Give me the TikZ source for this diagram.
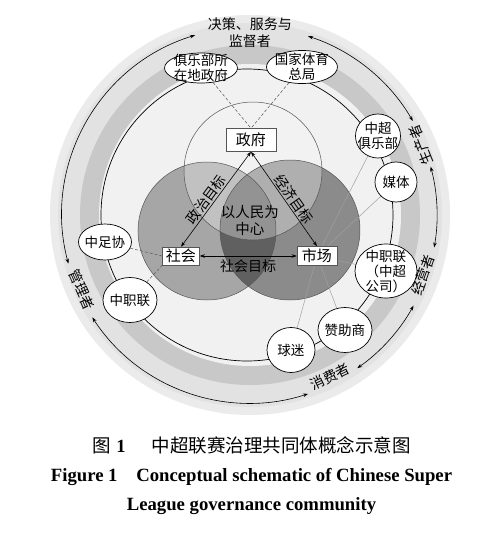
\documentclass[tikz,border=0pt]{standalone}
\usepackage{fontspec}
\setmainfont{Liberation Serif}
\newfontfamily\cjk{Noto Sans CJK SC}
\usetikzlibrary{arrows.meta,shapes.geometric}
\pgfdeclarelayer{bgA}
\pgfdeclarelayer{bgB}
\pgfsetlayers{bgA,bgB,main}
\definecolor{ringout}{HTML}{EBEBEB}
\definecolor{ringmid}{HTML}{E2E2E2}
\definecolor{bandc}{HTML}{C8C8C8}
\definecolor{innerc}{HTML}{F1F1F1}
\definecolor{topc}{HTML}{F4F4F4}
\definecolor{vennl}{HTML}{555555}
\definecolor{thinc}{HTML}{A0A0A0}
\tikzset{
  zhfont/.style={font=\cjk\fontsize{13.5}{15}\selectfont},
  boxn/.style={draw=vennl, fill=white, line width=0.5pt, rectangle, font=\cjk\fontsize{15}{16}\selectfont},
  ell/.style={draw=black, fill=white, ellipse, line width=0.7pt, inner sep=0pt},
  lbl/.style={zhfont, align=center, inner sep=0pt},
  lab/.style={font=\cjk\fontsize{14}{15}\selectfont, inner sep=1pt},
  olab/.style={font=\cjk\fontsize{14}{17}\selectfont, inner sep=0pt, align=center},
  dblarrow/.style={line width=0.6pt, {Stealth[length=5pt,width=3.5pt]}-{Stealth[length=5pt,width=3.5pt]}},
  thinl/.style={draw=thinc, line width=0.5pt},
  dashl/.style={draw=vennl, line width=0.5pt, dash pattern=on 3pt off 2pt},
  vennline/.style={draw=vennl, line width=0.5pt},
  blkc/.style={draw=black, line width=0.7pt},
  capzh/.style={font=\cjk\fontsize{18.5}{22}\selectfont, inner sep=0pt},
  capen/.style={font=\bfseries\fontsize{18.7}{22}\selectfont, inner sep=0pt},
}
\begin{document}
\begin{tikzpicture}[x=1pt,y=1pt]
\useasboundingbox (-250,215) rectangle (250,-321);
\begin{pgfonlayer}{bgA}
  \fill[white] (-250,215) rectangle (250,-321);
  \fill[ringout] (0,0) circle[radius=200];
  \fill[ringmid] (0,0) circle[radius=192];
  \fill[bandc] (0,0) circle[radius=170];
  \fill[innerc] (0,0) circle[radius=151];
  \fill[black, fill opacity=0.31] (-43,-16) circle[radius=69];
  \fill[black, fill opacity=0.42] (40,-15) circle[radius=70];
  \fill[topc, fill opacity=0.35] (3,44) circle[radius=69];
  \draw[vennline] (-43,-16) circle[radius=69] (40,-15) circle[radius=70] (3,44) circle[radius=69];
\end{pgfonlayer}

% inner boxes
\node[boxn, minimum width=50, minimum height=23] (zf) at (1,75) {政府};
\node[boxn, minimum width=37, minimum height=18, inner sep=2pt] (sh) at (-69,-41) {社会};
\node[boxn, minimum width=40, minimum height=19, inner sep=2pt] (sc) at (67,-41) {市场};
\node[font=\cjk\fontsize{14.5}{17}\selectfont, align=center, inner sep=0pt] (rm) at (0,-5) {以人民为\\中心};

% ring nodes
\node[ell, minimum width=73, minimum height=30, label={[lbl]center:{俱乐部所\\在地政府}}] (jlbzf) at (-49,147) {};
\node[ell, minimum width=71, minimum height=33, label={[lbl]center:{国家体育\\总局}}] (gj) at (52,148) {};
\node[ell, minimum width=45, minimum height=44, label={[lbl]center:{中超\\俱乐部}}] (zcjlb) at (128,79) {};
\node[ell, minimum width=42, minimum height=40, label={[lbl]center:{媒体}}] (mt) at (146,33) {};
\node[ell, minimum width=62, minimum height=54, label={[lbl]center:{中职联\\（中超\\公司）}}] (zzlR) at (136,-56) {};
\node[ell, minimum width=54, minimum height=45, label={[lbl]center:{赞助商}}] (zzs) at (95,-115) {};
\node[ell, minimum width=48, minimum height=45, label={[lbl]center:{球迷}}] (qm) at (41,-135) {};
\node[ell, minimum width=53, minimum height=36, label={[lbl]center:{中足协}}] (zzx) at (-145,-27) {};
\node[ell, minimum width=54, minimum height=45, label={[lbl]center:{中职联}}] (zzlL) at (-120,-85) {};

\begin{pgfonlayer}{bgB}
  \draw[thinl] (sc) -- (zcjlb);
  \draw[thinl] (sc) -- (mt);
  \draw[thinl] (sc) -- (zzlR);
  \draw[thinl] (sc) -- (zzs);
  \draw[thinl] (sc) -- (qm);
  \draw[dashl] (jlbzf) -- (zf.north);
  \draw[dashl] (gj) -- (zf.north);
  \draw[dashl] (zzx) -- (sh.west);
  \draw[dashl] (zzlL) -- (sh.south west);
  \draw[blkc] (-3,0) circle[radius=146];
\end{pgfonlayer}

% goal arrows
\draw[dblarrow] (zf.south) -- node[lab, sloped, above, pos=0.55] {政治目标} (sh.north);
\draw[dblarrow] (zf.south) -- node[lab, sloped, above, pos=0.55] {经济目标} (sc.north);
\draw[dblarrow] (sh.east) -- node[lab, below, yshift=-2] {社会目标} (sc.west);

% outer arrows
\draw[dblarrow] (107:188) arc[start angle=107, end angle=195, radius=188];
\draw[dblarrow] (72:188) arc[start angle=72, end angle=30, radius=188];
\draw[dblarrow] (15:187) arc[start angle=15, end angle=-10, radius=187];
\draw[dblarrow] (-29:187) arc[start angle=-29, end angle=-55, radius=187];
\draw[dblarrow] (213:188) arc[start angle=213, end angle=288, radius=188];

% outer labels
\node[olab] (ljc) at (0,182) {决策、服务与\\监督者};
\node[olab, rotate=112] (lsc) at (171,70) {生产者};
\node[olab, rotate=71] (ljy) at (173,-60) {经营者};
\node[olab, rotate=26] (lxf) at (80,-162) {消费者};
\node[olab, rotate=-66] (lgl) at (-168,-75) {管理者};

% caption
\node[capzh] (cap1) at (1.5,-230) {图\hspace{0.3em}{\rmfamily\bfseries 1}\hspace{1.4em}中超联赛治理共同体概念示意图};
\node[capen] (cap2) at (1.5,-262) {Figure 1\hspace{1em}Conceptual schematic of Chinese Super};
\node[capen] (cap3) at (1.5,-291) {League governance community};
\end{tikzpicture}
\end{document}
